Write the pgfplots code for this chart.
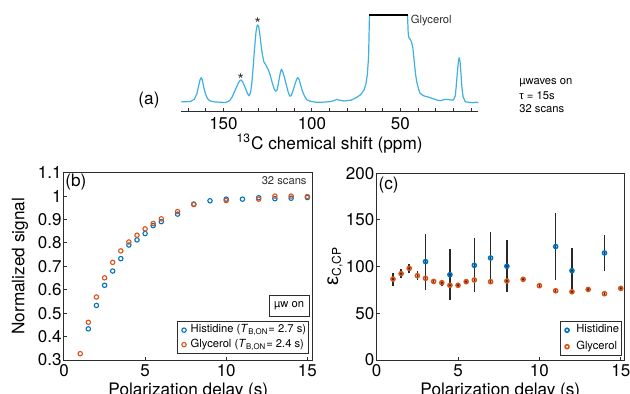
\documentclass[border=0pt]{standalone}
\usepackage{fontspec}
\setmainfont{TeX Gyre Heros}
\newfontfamily\gr{Liberation Sans}
\usepackage{pgfplots}
\pgfplotsset{compat=1.18}
\definecolor{mblue}{RGB}{0,114,189}
\definecolor{morange}{RGB}{217,83,25}
\definecolor{spec}{RGB}{62,176,226}
\definecolor{frame}{RGB}{45,45,45}
\definecolor{ebar}{RGB}{40,40,40}
\newcommand\tfont{\fontsize{8.5}{9}\selectfont}
\newcommand\lfont{\fontsize{8.6}{9}\selectfont}
\newcommand\sfont{\fontsize{5.6}{6}\selectfont}
\pgfplotsset{
  mk/.style={only marks, legend image code/.code={\path (0cm,-0.05cm) (0.16cm,0.05cm); \draw[mark repeat=2,mark phase=2,##1] plot coordinates {(0cm,0cm) (0.08cm,0cm) (0.16cm,0cm)};}},
  mkc/.style={only marks, legend image code/.code={\path (0cm,-0.05cm) (0.2cm,0.05cm); \draw[mark repeat=2,mark phase=2,##1] plot coordinates {(0cm,0cm) (0.08cm,0cm) (0.16cm,0cm)};}},
  panel/.style={
    scale only axis, anchor=south west,
    /pgf/number format/assume math mode=true,
    tick label style={font=\tfont},
    xticklabel style={inner sep=2pt},
    yticklabel style={inner sep=1pt},
    label style={font=\lfont},
    tick align=inside, tick pos=left,
    major tick length=1.5pt,
    tick style={frame, line width=0.5pt},
    axis line style={frame, line width=0.5pt},
    legend cell align=left,
    legend style={font=\sfont, draw=frame, line width=0.5pt, inner xsep=0.5pt, inner ysep=0.8pt, nodes={inner sep=0.8pt}},
  },
}
\begin{document}
\begin{tikzpicture}
\useasboundingbox (0,0) rectangle (315pt,-197pt);

% ---------- panel (a) ----------
\begin{axis}[
  at={(90.5pt,-55.85pt)}, anchor=south west,
  scale only axis, width=148.65pt, height=48.2pt,
  x dir=reverse, xmin=6, xmax=174, ymin=0, ymax=96.4,
  axis x line*=bottom, axis y line=none,
  x axis line style={-, frame, line width=0.75pt},
  xtick={50,100,150}, minor xtick={10,20,...,170},
  tick align=inside, major tick length=1.6pt, minor tick length=1.6pt,
  tick style={frame, line width=0.5pt},
  /pgf/number format/assume math mode=true,
  tick label style={font=\tfont},
  xticklabel style={inner sep=2.5pt},
  xlabel={\textsuperscript{13}C chemical shift (ppm)},
  xlabel style={font=\lfont, at={(rel axis cs:0.5,-0.397)}, anchor=base},
  clip=false,
]
\addplot[spec, line width=0.6pt, line join=round] coordinates {
(174,9.8) (171,10) (168.5,10.2) (166.5,12.5) (165,18) (164,26) (163.2,32) (162.6,34) (162,32) (161.2,25) (160.2,18) (159,13) (157.5,10.7) (155,9.8) (152,9.5) (149,9.2) (147.5,10) (146.2,11.7) (145,15) (143.8,20) (142.8,24) (141.5,29) (140.5,31.5) (140,31.7) (139.2,30) (138.2,26) (137.5,23) (136.5,18.5) (135.6,15.8) (134.7,19) (134,28) (133.2,45) (132.5,62) (131.6,80) (131,86) (130.6,86.7) (130.1,85) (129.5,78) (128.7,66) (128,57) (127.2,50) (126,46.5) (124.6,41.7) (123.5,36) (122.3,28) (121.3,22.5) (120.4,20.5) (119.6,22) (118.8,30) (118,38) (117.3,42.4) (116.5,40) (115.5,34) (114.5,27) (113.5,20) (112.6,15.5) (111.7,16) (110.8,20.5) (109.5,28) (108.5,33) (108,34) (107.2,32) (106.3,26) (105.5,21) (104.3,16) (103,12) (101,10.5) (98,9.5) (94,9.5) (90,10) (87.5,11) (86,12.4) (84.5,11.5) (82,10.7) (78,11.5) (75,14) (72.5,17) (70.5,22) (69.5,28) (68.7,37) (68,55) (67.5,96.4)
(46,96.4) (45.6,78) (45.2,74) (44.5,72.4) (43.8,70) (43,64) (42.2,50) (41.5,38) (40.8,30) (39.8,23) (38.9,18.4) (37,16) (35,15) (33.2,14) (31,12.7) (29,11.5) (27.6,11) (25.5,12) (23.8,12.4) (21.5,11.7) (20,11.7) (19,16) (18.5,25) (17.8,40) (17.2,51) (16.8,54) (16.3,50) (15.8,38) (15.3,25) (14.6,15) (13.4,10) (11,9.2) (8.8,9) (7.5,9.5) (6,9)
};
\addplot[black, line width=0.8pt] coordinates {(67.6,96.4) (45.9,96.4)};
\node[anchor=west, inner sep=0, font=\sfont, text=frame] at (axis cs:44.3,90.7) {Glycerol};
\node[anchor=base, inner sep=0, yshift=-4.6pt, font=\fontsize{8}{8}\selectfont, text=frame] at (axis cs:130.6,91.7) {*};
\node[anchor=base, inner sep=0, yshift=-4.6pt, font=\fontsize{8}{8}\selectfont, text=frame] at (axis cs:140.2,35.7) {*};
\end{axis}
\node[font=\lfont] at (74.5pt,-50pt) {(a)};
\node[anchor=west, inner sep=0, font=\sfont] at (259.5pt,-41.5pt) {µwaves on};
\node[anchor=west, inner sep=0, font=\sfont] at (259.5pt,-48pt) {{\gr τ} = 15s};
\node[anchor=west, inner sep=0, font=\sfont] at (259.5pt,-54.5pt) {32 scans};

% ---------- panel (b) ----------
\begin{axis}[panel,
  at={(32pt,-180pt)}, width=124.35pt, height=93.65pt,
  xmin=0, xmax=15.33, ymin=0.3, ymax=1.1,
  xtick={0,5,10,15}, ytick={0.3,0.4,0.5,0.6,0.7,0.8,0.9,1,1.1},
  xlabel={Polarization delay (s)},
  ylabel={Normalized signal},
  xlabel style={at={(rel axis cs:0.5,-0.187)}, anchor=base},
  ylabel style={at={(rel axis cs:-0.177,0.5)}, anchor=center, rotate=0},
  legend style={at={(0.986,0.032)}, anchor=south east},
]
\addplot[mk, mark=o, mblue, mark size=1.1pt, line width=0.55pt] coordinates {
(1.5,0.433) (2,0.533) (2.5,0.619) (3,0.680) (3.5,0.733) (4,0.791) (4.5,0.813) (5,0.840) (5.5,0.874) (6,0.891) (7,0.923) (8,0.966) (9,0.980) (10,0.987) (11,0.987) (12,0.993) (13,0.989) (14,0.991) (15,0.994)
};
\addlegendentry{Histidine (\textit{T}\textsubscript{B,ON}= 2.7 s)}
\addplot[mk, mark=o, morange, mark size=1.1pt, line width=0.55pt] coordinates {
(1,0.327) (1.5,0.461) (2,0.569) (2.5,0.651) (3,0.717) (3.5,0.766) (4,0.804) (4.5,0.833) (5,0.860) (5.5,0.883) (6,0.903) (7,0.934) (8,0.964) (10,0.981) (12,0.987) (13,1.000) (14,1.000) (15,0.998)
};
\addlegendentry{Glycerol (\textit{T}\textsubscript{B,ON}= 2.4 s)}
\node[font=\lfont, inner sep=0] at (rel axis cs:0.048,0.952) {(b)};
\node[font=\sfont, anchor=east, inner sep=0, text=frame] at (rel axis cs:0.977,0.957) {32 scans};
\node[font=\sfont, draw=frame, line width=0.5pt, minimum width=20pt, minimum height=10.3pt, inner sep=0] at (rel axis cs:0.905,0.288) {µw on};
\end{axis}

% ---------- panel (c) ----------
\begin{axis}[panel,
  at={(188.35pt,-180pt)}, width=123.65pt, height=93.35pt,
  xmin=0, xmax=15.2, ymin=0, ymax=200,
  xtick={0,5,10,15}, ytick={0,50,100,150,200},
  xlabel={Polarization delay (s)},
  ylabel={{\gr\fontsize{10}{10}\selectfont ε}\textsubscript{C,CP}},
  xlabel style={at={(rel axis cs:0.5,-0.188)}, anchor=base},
  ylabel style={at={(rel axis cs:-0.169,0.503)}, anchor=center},
  legend style={at={(0.993,0.021)}, anchor=south east, row sep=1pt},
]
\addplot[mkc, mark=o, mblue, mark size=1pt, line width=0.8pt,
  error bars/.cd, y dir=both, y explicit, error mark=none,
  error bar style={line width=0.75pt, color=ebar}] coordinates {
(3,105.4) +- (0,30) (4.5,91.4) +- (0,27) (6,101.4) +- (0,29) (7,109.3) +- (0,28) (8,100.4) +- (0,28) (11,121.5) +- (0,36) (12,95.7) +- (0,24) (14,114.7) +- (0,19)
};
\addlegendentry{Histidine\hspace{3pt}}
\addplot[mkc, mark=o, morange, mark size=1pt, line width=0.8pt,
  error bars/.cd, y dir=both, y explicit, error mark=none,
  error bar style={line width=0.75pt, color=ebar}] coordinates {
(1,86.7) +- (0,7) (1.5,92.5) +- (0,5) (2,98.2) +- (0,5) (2.5,90.3) +- (0,5) (3,87.5) +- (0,4) (3.5,84.2) +- (0,3) (4,82.8) +- (0,3) (4.5,80) +- (0,3) (5,80) +- (0,3) (5.5,83.9) +- (0,3) (6,85.7) +- (0,3) (7,83.9) +- (0,2) (8,84.6) +- (0,2) (9,86.4) +- (0,2) (10,79.6) +- (0,2) (11,74.2) +- (0,2) (12,73.1) +- (0,2) (13,75.6) +- (0,2) (14,71) +- (0,2) (15,76.7) +- (0,2)
};
\addlegendentry{Glycerol\hspace{3pt}}
\node[font=\lfont, inner sep=0] at (rel axis cs:0.048,0.937) {(c)};
\end{axis}
\end{tikzpicture}
\end{document}
